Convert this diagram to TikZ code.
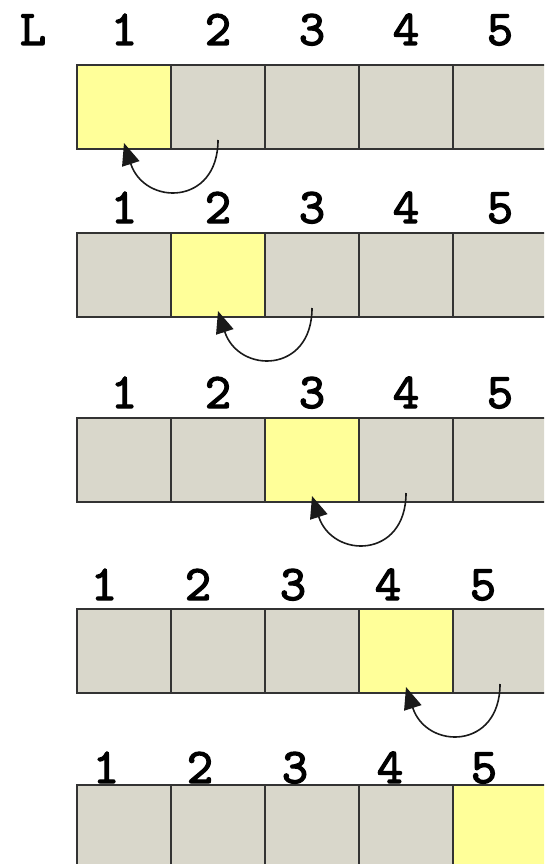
\documentclass[tikz,border=0pt]{standalone}
\usepackage{fontspec}
\newfontfamily\idxfont{lmmono10-regular.otf}[AutoFakeBold=2.5]
\usepackage{tikz}
\usetikzlibrary{positioning, arrows.meta}
\definecolor{cellgray}{HTML}{D9D7CB}
\definecolor{cellyellow}{HTML}{FFFF99}
\definecolor{celledge}{HTML}{333333}
\definecolor{arcgray}{HTML}{1A1A1A}
\tikzset{
  cell/.style={
    rectangle, draw=celledge, fill=cellgray, line width=1.6pt,
    minimum width=94pt, minimum height=84pt, inner sep=0pt, outer sep=0pt
  },
  current/.style={fill=cellyellow},
  idx/.style={anchor=base, inner sep=0pt,
    font=\idxfont\bfseries\fontsize{50}{50}\selectfont},
  backstep/.style={draw=arcgray, line width=1.6pt,
    -{Triangle[length=22pt, width=18pt]},
    out=-90, in=-72, looseness=1.8}
}

\begin{document}
\begin{tikzpicture}[x=1pt, y=-1pt]
\useasboundingbox (0,0) rectangle (544,864);
\clip (0,0) rectangle (544,864);

% row 1
\node[cell, current] (a1) at (124,107) {};
\node[cell, right=0pt of a1] (a2) {};
\node[cell, right=0pt of a2] (a3) {};
\node[cell, right=0pt of a3] (a4) {};
\node[cell, right=0pt of a4] (a5) {};
\node[idx] (lname) at (33,45) {L};
\node[idx] (a1n) at ([yshift=20pt]a1.north) {1};
\node[idx] (a2n) at ([yshift=20pt]a2.north) {2};
\node[idx] (a3n) at ([yshift=20pt]a3.north) {3};
\node[idx] (a4n) at ([yshift=20pt]a4.north) {4};
\node[idx] (a5n) at ([yshift=20pt]a5.north) {5};
\draw[backstep] ([yshift=9pt]a2.south) to ([yshift=6pt]a1.south);

% row 2
\node[cell] (b1) at (124,275) {};
\node[cell, current, right=0pt of b1] (b2) {};
\node[cell, right=0pt of b2] (b3) {};
\node[cell, right=0pt of b3] (b4) {};
\node[cell, right=0pt of b4] (b5) {};
\node[idx] (b1n) at ([yshift=10pt]b1.north) {1};
\node[idx] (b2n) at ([yshift=10pt]b2.north) {2};
\node[idx] (b3n) at ([yshift=10pt]b3.north) {3};
\node[idx] (b4n) at ([yshift=10pt]b4.north) {4};
\node[idx] (b5n) at ([yshift=10pt]b5.north) {5};
\draw[backstep] ([yshift=9pt]b3.south) to ([yshift=6pt]b2.south);

% row 3
\node[cell] (c1) at (124,460) {};
\node[cell, right=0pt of c1] (c2) {};
\node[cell, current, right=0pt of c2] (c3) {};
\node[cell, right=0pt of c3] (c4) {};
\node[cell, right=0pt of c4] (c5) {};
\node[idx] (c1n) at ([yshift=10pt]c1.north) {1};
\node[idx] (c2n) at ([yshift=10pt]c2.north) {2};
\node[idx] (c3n) at ([yshift=10pt]c3.north) {3};
\node[idx] (c4n) at ([yshift=10pt]c4.north) {4};
\node[idx] (c5n) at ([yshift=10pt]c5.north) {5};
\draw[backstep] ([yshift=9pt]c4.south) to ([yshift=6pt]c3.south);

% row 4
\node[cell] (d1) at (124,651) {};
\node[cell, right=0pt of d1] (d2) {};
\node[cell, right=0pt of d2] (d3) {};
\node[cell, current, right=0pt of d3] (d4) {};
\node[cell, right=0pt of d4] (d5) {};
\node[idx] (d1n) at ([xshift=-20pt, yshift=9pt]d1.north) {1};
\node[idx] (d2n) at ([xshift=-20pt, yshift=9pt]d2.north) {2};
\node[idx] (d3n) at ([xshift=-19pt, yshift=9pt]d3.north) {3};
\node[idx] (d4n) at ([xshift=-18pt, yshift=9pt]d4.north) {4};
\node[idx] (d5n) at ([xshift=-17pt, yshift=9pt]d5.north) {5};
\draw[backstep] ([yshift=9pt]d5.south) to ([yshift=6pt]d4.south);

% row 5
\node[cell] (e1) at (124,827) {};
\node[cell, right=0pt of e1] (e2) {};
\node[cell, right=0pt of e2] (e3) {};
\node[cell, right=0pt of e3] (e4) {};
\node[cell, current, right=0pt of e4] (e5) {};
\node[idx] (e1n) at ([xshift=-18pt, yshift=2pt]e1.north) {1};
\node[idx] (e2n) at ([xshift=-18pt, yshift=2pt]e2.north) {2};
\node[idx] (e3n) at ([xshift=-17pt, yshift=2pt]e3.north) {3};
\node[idx] (e4n) at ([xshift=-16pt, yshift=2pt]e4.north) {4};
\node[idx] (e5n) at ([xshift=-16pt, yshift=2pt]e5.north) {5};
\end{tikzpicture}
\end{document}
